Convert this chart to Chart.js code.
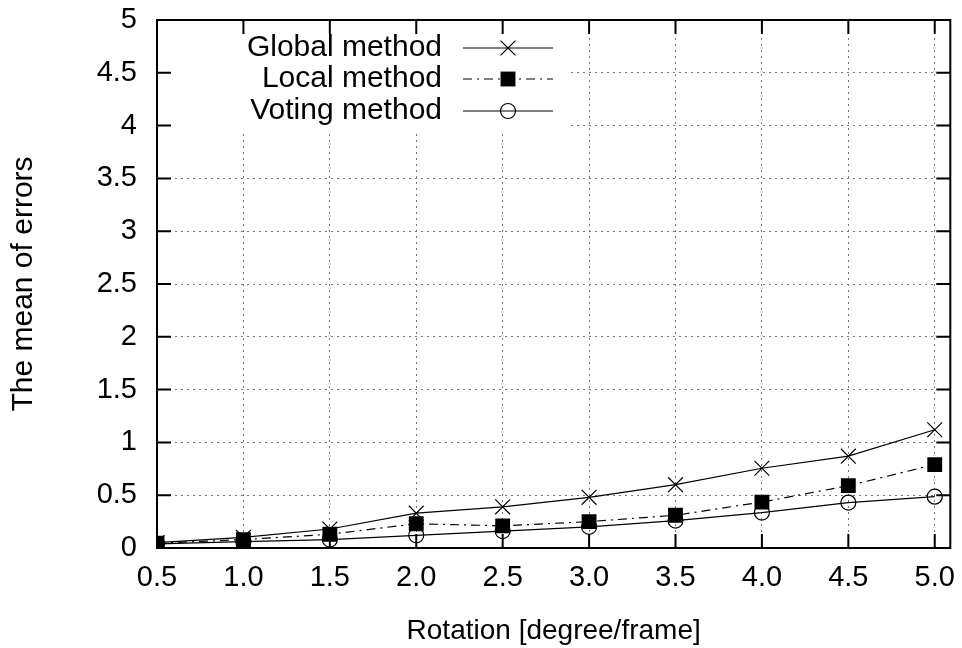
<!DOCTYPE html>
<html>
<head>
<meta charset="utf-8">
<script src="https://cdn.jsdelivr.net/npm/chart.js@4.4.1/dist/chart.umd.min.js"></script>
<style>
  html, body { margin: 0; padding: 0; background: #fff; }
  #wrap { width: 962px; height: 648px; }
</style>
</head>
<body>
<div id="wrap"><canvas id="chart" width="962" height="648"></canvas></div>
<script>
const rotations = [0.5, 1.0, 1.5, 2.0, 2.5, 3.0, 3.5, 4.0, 4.5, 5.0];
const globalErr = [0.05, 0.10, 0.18, 0.33, 0.39, 0.48, 0.60, 0.755, 0.87, 1.12];
const localErr  = [0.045, 0.08, 0.13, 0.23, 0.21, 0.25, 0.31, 0.435, 0.59, 0.79];
const votingErr = [0.04, 0.06, 0.08, 0.12, 0.16, 0.20, 0.26, 0.335, 0.43, 0.486];
const xTicks = [0.5, 1.0, 1.5, 2.0, 2.5, 3.0, 3.5, 4.0, 4.5, 5.0];
const yTicks = [0, 0.5, 1, 1.5, 2, 2.5, 3, 3.5, 4, 4.5, 5];

const FONT = '"Liberation Sans", Arial, sans-serif';
const toPoints = ys => rotations.map((x, i) => ({ x: x, y: ys[i] }));

function drawMarker(ctx, style, x, y, r) {
    ctx.save();
    ctx.strokeStyle = '#000';
    ctx.fillStyle = '#000';
    ctx.lineWidth = 1.2;
    ctx.setLineDash([]);
    ctx.beginPath();
    if (style === 'crossRot') {
        const d = r * Math.SQRT1_2;
        ctx.moveTo(x - d, y - d); ctx.lineTo(x + d, y + d);
        ctx.moveTo(x - d, y + d); ctx.lineTo(x + d, y - d);
        ctx.stroke();
    } else if (style === 'rect') {
        const s = r * Math.SQRT1_2;
        ctx.fillRect(x - s, y - s, 2 * s, 2 * s);
    } else {
        ctx.arc(x, y, r, 0, Math.PI * 2);
        ctx.stroke();
    }
    ctx.restore();
}

// gnuplot-like frame, inner ticks, key box
const framePlugin = {
    id: 'frame',
    beforeDatasetsDraw(chart) {
        const { ctx, chartArea: a, scales } = chart;
        ctx.save();
        // key background hides grid
        ctx.fillStyle = '#fff';
        ctx.fillRect(a.left + 1, a.top + 1, 413, 110);
        ctx.strokeStyle = '#000';
        ctx.lineWidth = 2;
        ctx.beginPath();
        xTicks.forEach(v => {
            const px = scales.x.getPixelForValue(v);
            ctx.moveTo(px, a.bottom); ctx.lineTo(px, a.bottom - 14);
            ctx.moveTo(px, a.top); ctx.lineTo(px, a.top + 14);
        });
        yTicks.forEach(v => {
            const py = scales.y.getPixelForValue(v);
            ctx.moveTo(a.left, py); ctx.lineTo(a.left + 14, py);
            ctx.moveTo(a.right, py); ctx.lineTo(a.right - 14, py);
        });
        ctx.stroke();
        ctx.strokeRect(a.left, a.top, a.right - a.left, a.bottom - a.top);
        ctx.restore();
    },
    afterDatasetsDraw(chart) {
        const { ctx, chartArea: a } = chart;
        const rows = [28, 59, 91];
        ctx.save();
        ctx.font = '30px ' + FONT;
        ctx.fillStyle = '#000';
        ctx.textAlign = 'right';
        ctx.textBaseline = 'middle';
        chart.data.datasets.forEach((ds, i) => {
            const y = a.top + rows[i];
            ctx.fillText(ds.label, a.left + 285, y);
            ctx.strokeStyle = '#000';
            ctx.lineWidth = ds.borderWidth;
            ctx.setLineDash(ds.borderDash || []);
            ctx.beginPath();
            ctx.moveTo(a.left + 306, y);
            ctx.lineTo(a.left + 396, y);
            ctx.stroke();
            drawMarker(ctx, ds.pointStyle, a.left + 351, y, ds.pointRadius);
        });
        ctx.restore();
    }
};

new Chart(document.getElementById('chart'), {
    type: 'line',
    plugins: [framePlugin],
    data: {
        datasets: [
            {
                label: 'Global method',
                data: toPoints(globalErr),
                borderColor: '#000',
                borderWidth: 1.2,
                pointStyle: 'crossRot',
                pointRadius: 10.5,
                pointBorderColor: '#000',
                pointBorderWidth: 1.2,
                fill: false
            },
            {
                label: 'Local method',
                data: toPoints(localErr),
                borderColor: '#000',
                borderWidth: 1.2,
                borderDash: [9, 5, 2, 5],
                pointStyle: 'rect',
                pointRadius: 10.5,
                pointBackgroundColor: '#000',
                pointBorderColor: '#000',
                pointBorderWidth: 0,
                fill: false
            },
            {
                label: 'Voting method',
                data: toPoints(votingErr),
                borderColor: '#000',
                borderWidth: 1.2,
                pointStyle: 'circle',
                pointRadius: 7.5,
                pointBackgroundColor: 'rgba(0,0,0,0)',
                pointBorderColor: '#000',
                pointBorderWidth: 1.2,
                fill: false
            }
        ]
    },
    options: {
        responsive: false,
        animation: false,
        layout: { padding: { top: 20, right: 11, left: 0, bottom: 0 } },
        plugins: {
            legend: { display: false },
            tooltip: { enabled: false }
        },
        scales: {
            x: {
                type: 'linear',
                min: 0.5,
                max: 5.09,
                afterBuildTicks: s => { s.ticks = xTicks.map(v => ({ value: v })); },
                afterFit: s => { s.height = 100; s.paddingLeft = 0; s.paddingRight = 0; },
                grid: { color: '#777', lineWidth: 1, drawTicks: false },
                border: { display: false, dash: [2, 4] },
                ticks: {
                    color: '#000',
                    padding: 13,
                    maxRotation: 0,
                    font: { family: FONT, size: 29 },
                    callback: v => v.toFixed(1)
                },
                title: {
                    display: true,
                    text: 'Rotation [degree/frame]',
                    color: '#000',
                    font: { family: FONT, size: 28, lineHeight: 1.2 },
                    padding: { top: 0, bottom: 0 }
                }
            },
            y: {
                min: 0,
                max: 5,
                afterBuildTicks: s => { s.ticks = yTicks.map(v => ({ value: v })); },
                afterFit: s => { s.width = 157; s.paddingTop = 0; s.paddingBottom = 0; },
                grid: { color: '#777', lineWidth: 1, drawTicks: false },
                border: { display: false, dash: [2, 4] },
                ticks: {
                    color: '#000',
                    padding: 20,
                    font: { family: FONT, size: 29 },
                    callback: v => String(v)
                },
                title: {
                    display: true,
                    text: 'The mean of errors',
                    color: '#000',
                    font: { family: FONT, size: 30, lineHeight: 1.2 },
                    padding: { top: 6, bottom: 0 }
                }
            }
        }
    }
});
</script>
</body>
</html>
